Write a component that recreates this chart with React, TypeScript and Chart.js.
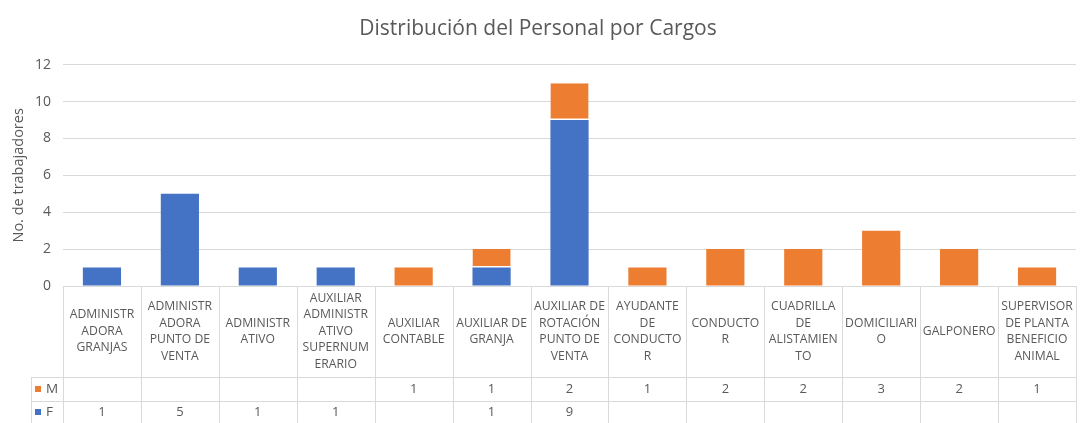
import React, { useEffect, useRef } from "react";
import { Chart, registerables } from "chart.js";

Chart.register(...registerables);

const categories: string[][] = [
  ["ADMINISTR", "ADORA", "GRANJAS"],
  ["ADMINISTR", "ADORA", "PUNTO DE", "VENTA"],
  ["ADMINISTR", "ATIVO"],
  ["AUXILIAR", "ADMINISTR", "ATIVO", "SUPERNUM", "ERARIO"],
  ["AUXILIAR", "CONTABLE"],
  ["AUXILIAR DE", "GRANJA"],
  ["AUXILIAR DE", "ROTACIÓN", "PUNTO DE", "VENTA"],
  ["AYUDANTE", "DE", "CONDUCTO", "R"],
  ["CONDUCTO", "R"],
  ["CUADRILLA", "DE", "ALISTAMIEN", "TO"],
  ["DOMICILIARI", "O"],
  ["GALPONERO"],
  ["SUPERVISOR", "DE PLANTA", "BENEFICIO", "ANIMAL"],
];

const seriesF: (number | null)[] = [1, 5, 1, 1, null, 1, 9, null, null, null, null, null, null];
const seriesM: (number | null)[] = [null, null, null, null, 1, 1, 2, 1, 2, 2, 3, 2, 1];

const yTicks = [0, 2, 4, 6, 8, 10, 12];

const BLUE = "#4472C4";
const ORANGE = "#ED7D31";
const TEXT = "#595959";
const GRID = "#D9D9D9";
const FONT = "'Open Sans', 'Liberation Sans', sans-serif";

const tablePlugin = {
  id: "dataTable",
  afterDraw(chart: any) {
    const ctx: CanvasRenderingContext2D = chart.ctx;
    const area = chart.chartArea;
    const xs = chart.scales.x;
    const n = categories.length;
    const colW = (area.right - area.left) / n;
    const top = area.bottom;
    const catBottom = top + 91;
    const mBottom = catBottom + 24;
    const fBottom = chart.height + 2;
    const labelLeft = 31;

    ctx.save();
    ctx.strokeStyle = GRID;
    ctx.lineWidth = 1;
    ctx.beginPath();
    ctx.moveTo(area.left, top + 0.5);
    ctx.lineTo(area.right, top + 0.5);
    ctx.moveTo(labelLeft, catBottom + 0.5);
    ctx.lineTo(area.right, catBottom + 0.5);
    ctx.moveTo(labelLeft, mBottom + 0.5);
    ctx.lineTo(area.right, mBottom + 0.5);
    for (let i = 0; i <= n; i++) {
      const x = Math.round(area.left + i * colW) + 0.5;
      ctx.moveTo(x, top);
      ctx.lineTo(x, fBottom);
    }
    ctx.moveTo(labelLeft + 0.5, catBottom);
    ctx.lineTo(labelLeft + 0.5, fBottom);
    ctx.stroke();

    ctx.fillStyle = TEXT;
    ctx.textAlign = "center";
    ctx.textBaseline = "middle";
    const lh = 16.5;
    const midCat = (top + catBottom) / 2;
    const mMid = (catBottom + mBottom) / 2;
    const fMid = mBottom + 11;
    for (let i = 0; i < n; i++) {
      const cx = xs.getPixelForValue(i);
      const lines = categories[i];
      const start = midCat - ((lines.length - 1) * lh) / 2;
      ctx.font = `12.2px ${FONT}`;
      lines.forEach((t, k) => ctx.fillText(t, cx, start + k * lh));
      ctx.font = `13px ${FONT}`;
      if (seriesM[i] != null) ctx.fillText(String(seriesM[i]), cx, mMid);
      if (seriesF[i] != null) ctx.fillText(String(seriesF[i]), cx, fMid);
    }

    ctx.font = `13.5px ${FONT}`;
    ctx.textAlign = "left";
    ctx.fillStyle = ORANGE;
    ctx.fillRect(35, mMid - 3, 6, 6);
    ctx.fillStyle = BLUE;
    ctx.fillRect(35, fMid - 3, 6, 6);
    ctx.fillStyle = TEXT;
    ctx.fillText("M", 46, mMid);
    ctx.fillText("F", 46, fMid);
    ctx.restore();
  },
};

export default function App() {
  const ref = useRef<HTMLCanvasElement | null>(null);

  useEffect(() => {
    if (!ref.current) return;
    const chart = new Chart(ref.current, {
      type: "bar",
      data: {
        labels: categories.map((c) => c.join(" ")),
        datasets: [
          {
            label: "F",
            data: seriesF,
            backgroundColor: BLUE,
            borderWidth: 0,
            categoryPercentage: 1,
            barPercentage: 0.49,
          },
          {
            label: "M",
            data: seriesM,
            backgroundColor: ORANGE,
            borderColor: "#FFFFFF",
            borderWidth: (c: any) =>
              seriesF[c.dataIndex] != null
                ? { bottom: 1.5, top: 0, left: 0, right: 0 }
                : 0,
            borderSkipped: false,
            categoryPercentage: 1,
            barPercentage: 0.49,
          },
        ],
      },
      options: {
        responsive: false,
        animation: false,
        layout: { padding: { left: 0, right: 5, top: 0, bottom: 137 } },
        plugins: {
          legend: { display: false },
          tooltip: { enabled: false },
          title: {
            display: true,
            text: "Distribución del Personal por Cargos",
            color: TEXT,
            font: { family: FONT, size: 21, weight: "normal" },
            padding: { top: 16, bottom: 23.5 },
          },
        },
        scales: {
          x: {
            stacked: true,
            display: false,
          },
          y: {
            stacked: true,
            min: 0,
            max: 12,
            afterBuildTicks: (scale: any) => {
              scale.ticks = yTicks.map((v) => ({ value: v }));
            },
            afterFit: (scale: any) => {
              scale.width = 63;
            },
            grid: { color: GRID, drawTicks: false },
            border: { display: false },
            ticks: {
              color: TEXT,
              font: { family: FONT, size: 14 },
              padding: 12,
            },
            title: {
              display: true,
              text: "No. de trabajadores",
              color: TEXT,
              font: { family: FONT, size: 14.5 },
              padding: { top: 10, bottom: 0 },
            },
          },
        },
      },
      plugins: [tablePlugin],
    });
    return () => chart.destroy();
  }, []);

  return (
    <div style={{ position: "absolute", left: 0, top: 0, width: 1081, height: 423, background: "#fff" }}>
      <canvas ref={ref} width={1081} height={423} style={{ display: "block" }} />
    </div>
  );
}
